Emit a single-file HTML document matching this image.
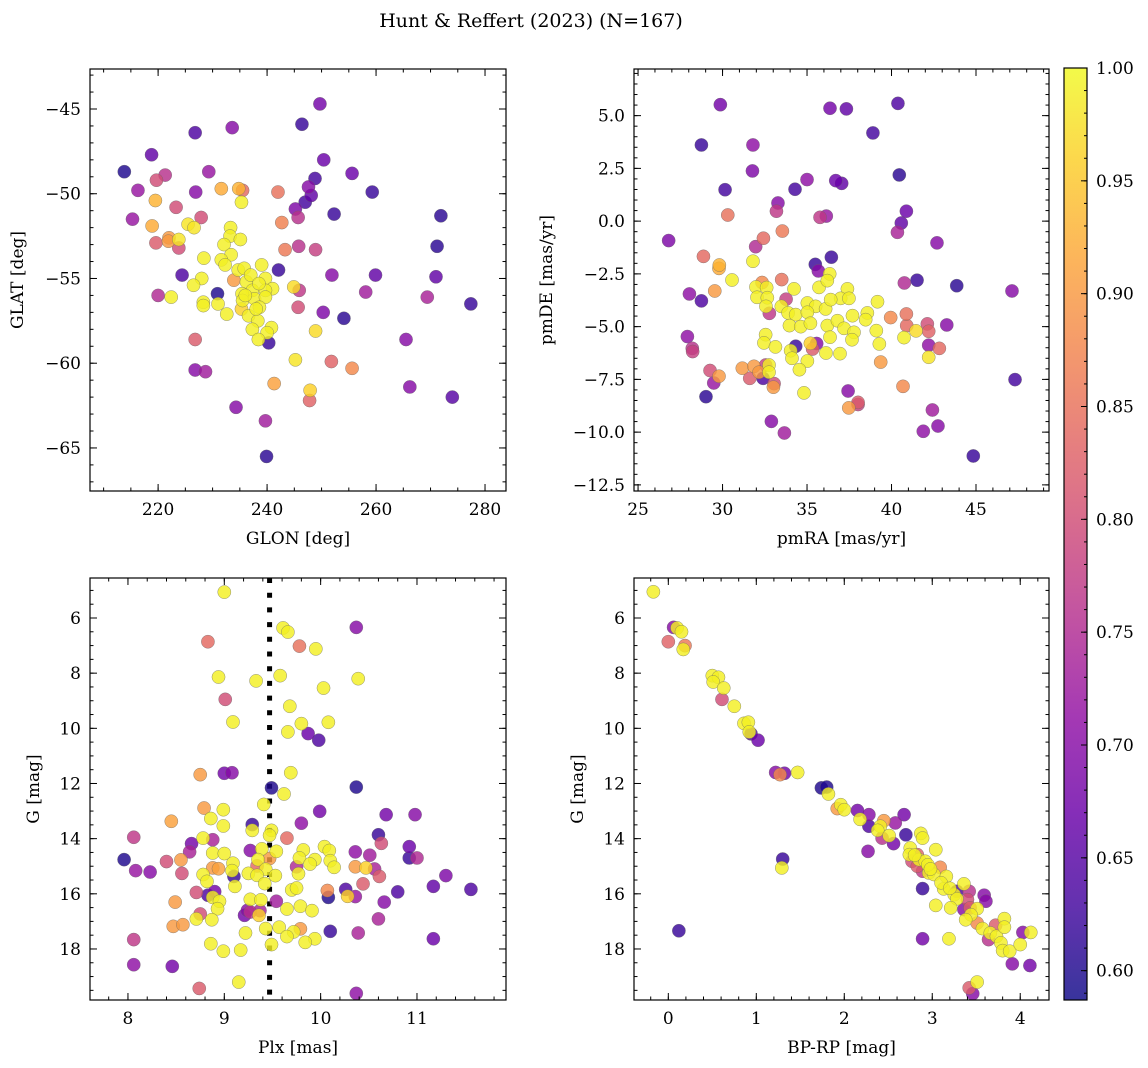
<!DOCTYPE html>
<html><head><meta charset="utf-8"><style>
html,body{margin:0;padding:0;background:#fff;}
svg{display:block;font-family:"DejaVu Serif","Liberation Serif",serif;}
</style></head><body>
<svg id="fig" width="1148" height="1068" viewBox="0 0 1148 1068" xmlns="http://www.w3.org/2000/svg">
<text x="531" y="27" font-size="19" text-anchor="middle">Hunt &amp; Reffert (2023) (N=167)</text>
</svg>
<script>
// ---- data: [x, y, membership probability] ----
const glonGlat = [
[249.7,-44.7,.68],[233.6,-46.1,.70],[226.8,-46.4,.64],[246.4,-45.9,.62],[218.8,-47.7,.66],[250.4,-48.0,.67],[213.8,-48.7,.60],[221.3,-48.9,.76],[219.7,-49.2,.80],[229.3,-48.7,.72],
[255.6,-48.8,.67],[248.8,-49.1,.63],[247.6,-49.6,.70],[248.1,-50.1,.66],[247.0,-50.5,.63],[259.3,-49.9,.62],[216.3,-49.8,.72],[226.9,-49.9,.70],[231.6,-49.7,.92],[234.8,-49.7,.93],
[235.5,-49.8,.84],[242.0,-49.9,.85],[219.5,-50.4,.93],[235.3,-50.5,.99],[223.3,-50.8,.80],[245.2,-50.9,.69],[245.7,-51.4,.76],[252.3,-51.2,.62],[271.9,-51.3,.61],[215.3,-51.5,.72],
[227.9,-51.4,.80],[218.9,-51.9,.92],[225.5,-51.8,.98],[226.6,-52.0,.98],[242.7,-51.7,.87],[222.0,-52.6,.90],[219.6,-52.9,.82],[221.9,-52.8,.90],[223.8,-52.7,.98],[223.8,-53.2,.80],
[233.3,-52.0,.99],[233.2,-52.5,.99],[235.1,-52.7,.99],[232.1,-53.0,.99],[243.3,-53.3,.86],[245.8,-53.1,.76],[248.9,-53.3,.78],[271.2,-53.1,.61],[233.4,-53.6,.99],[228.4,-53.8,.99],
[231.6,-53.9,.99],[232.3,-54.2,.99],[239.0,-54.2,.99],[242.1,-54.5,.62],[234.7,-54.5,.99],[235.8,-54.4,.99],[224.4,-54.8,.64],[251.9,-54.8,.70],[259.9,-54.8,.66],[271.0,-54.9,.66],
[228.0,-55.0,.99],[226.5,-55.4,.99],[233.9,-55.1,.90],[239.7,-55.0,.99],[236.2,-55.2,.99],[237.3,-55.7,.99],[241.0,-55.6,.99],[244.9,-55.5,.97],[245.9,-55.7,.77],[230.9,-55.9,.60],
[220.0,-56.0,.75],[222.4,-56.1,.99],[258.1,-55.8,.73],[269.4,-56.1,.74],[277.4,-56.5,.62],[235.4,-55.9,.99],[239.7,-55.7,.99],[235.5,-56.3,.99],[237.7,-56.2,.99],[239.7,-56.1,.99],
[228.3,-56.4,.99],[228.3,-56.6,.99],[231.0,-56.5,.99],[232.6,-57.1,.99],[235.3,-56.8,.96],[238.6,-56.7,.99],[236.6,-57.2,.99],[238.3,-57.5,.99],[237.3,-58.0,.99],[240.8,-57.9,.99],
[240.0,-58.2,.99],[238.4,-58.6,.99],[245.7,-56.7,.80],[250.3,-57.0,.69],[254.1,-57.35,.61],[248.9,-58.1,.97],[240.3,-58.8,.62],[226.8,-58.6,.82],[265.5,-58.6,.70],[245.2,-59.8,.98],
[251.8,-59.9,.83],[255.6,-60.3,.88],[226.8,-60.4,.70],[228.7,-60.5,.73],[241.3,-61.2,.91],[247.9,-61.6,.96],[247.8,-62.2,.83],[266.2,-61.4,.70],[274.0,-62.0,.65],[234.3,-62.6,.70],
[239.7,-63.4,.73],[239.9,-65.5,.61],[237.0,-54.8,.99],[238.5,-55.3,.99],[236.0,-56.0,.99],[238.0,-56.8,.99]
];
const pmraPmde = [
[29.87,5.52,.68],[36.36,5.35,.68],[37.33,5.32,.66],[40.38,5.58,.64],[38.9,4.18,.63],[28.75,3.61,.62],[31.8,3.61,.71],[31.77,2.38,.69],[30.15,1.49,.63],[35.0,1.97,.71],
[36.7,1.92,.67],[37.05,1.79,.66],[34.29,1.51,.63],[40.46,2.19,.61],[33.28,.86,.70],[33.19,.47,.77],[30.31,.29,.85],[35.77,.18,.77],[36.14,.24,.72],[40.88,.47,.67],
[40.58,-.09,.66],[40.35,-.53,.74],[26.81,-.92,.69],[42.69,-1.03,.70],[32.42,-.81,.84],[33.54,-.47,.86],[31.96,-1.21,.75],[28.87,-1.67,.84],[36.44,-1.71,.62],[35.49,-2.05,.62],
[35.67,-2.36,.70],[29.81,-2.08,.93],[29.79,-2.24,.92],[31.8,-1.9,.99],[36.34,-2.5,.99],[30.56,-2.79,.99],[41.51,-2.8,.62],[40.76,-2.93,.75],[43.86,-3.06,.61],[47.13,-3.31,.70],
[28.04,-3.45,.71],[28.75,-3.78,.64],[29.54,-3.31,.90],[32.34,-2.91,.88],[33.5,-2.77,.85],[31.98,-3.12,.99],[32.61,-3.15,.99],[32.04,-3.61,.99],[32.65,-3.63,.99],[34.23,-3.21,.99],
[35.71,-3.14,.99],[36.2,-2.82,.99],[37.39,-3.21,.99],[36.99,-3.66,.99],[37.48,-3.66,.99],[39.17,-3.82,.99],[33.76,-3.7,.78],[33.48,-4.04,.99],[32.57,-4.04,.99],[32.77,-4.37,.77],
[33.88,-4.35,.99],[34.33,-4.43,.99],[35.02,-3.88,.99],[35.51,-4.04,.99],[35.02,-4.32,.99],[36.1,-4.16,.99],[36.4,-3.72,.99],[37.69,-4.48,.99],[38.57,-4.35,.99],[38.47,-4.67,.99],
[39.95,-4.57,.88],[40.88,-4.4,.85],[40.9,-4.95,.84],[42.12,-4.87,.80],[42.2,-5.22,.83],[43.27,-4.92,.70],[41.45,-5.2,.97],[33.96,-4.95,.99],[34.63,-5.0,.99],[35.2,-4.84,.99],
[36.2,-4.95,.99],[36.8,-4.72,.99],[37.19,-5.08,.99],[37.78,-5.27,.99],[36.36,-5.5,.99],[39.1,-5.19,.99],[32.55,-5.38,.99],[32.45,-5.77,.99],[33.13,-5.96,.99],[34.33,-5.93,.62],
[35.2,-5.79,.96],[35.57,-5.8,.70],[35.33,-6.06,.82],[34.03,-6.14,.99],[34.11,-6.5,.99],[35.02,-6.63,.99],[36.12,-6.25,.99],[36.95,-6.28,.99],[37.66,-5.62,.99],[39.28,-5.82,.99],
[40.74,-5.52,.99],[42.2,-5.88,.71],[42.83,-6.03,.84],[42.2,-6.45,.98],[39.36,-6.68,.90],[27.92,-5.47,.71],[28.21,-6.03,.76],[28.23,-6.18,.78],[31.17,-6.97,.90],[31.86,-6.88,.90],
[32.55,-6.82,.78],[32.75,-6.82,.99],[32.75,-7.16,.99],[32.16,-7.16,.90],[31.61,-7.45,.82],[32.4,-7.45,.64],[29.26,-7.08,.80],[29.79,-7.35,.90],[29.48,-7.67,.72],[29.02,-8.32,.61],
[33.05,-7.7,.80],[33.01,-7.87,.90],[34.55,-7.04,.99],[34.82,-8.14,.99],[40.68,-7.83,.88],[37.43,-8.05,.70],[38.02,-8.59,.82],[37.47,-8.85,.90],[38.02,-8.69,.78],[47.31,-7.51,.63],
[32.89,-9.49,.70],[33.66,-10.04,.73],[42.42,-8.95,.73],[42.75,-9.71,.70],[41.88,-9.96,.71],[44.84,-11.13,.62]
];
const plxG = [
[9.0,5.06,.99],[9.61,6.36,.99],[9.66,6.51,.99],[10.37,6.34,.70],[8.83,6.86,.84],[9.78,7.02,.85],[9.95,7.12,.99],[8.94,8.14,.99],[9.33,8.28,.99],[9.58,8.09,.99],
[10.03,8.54,.99],[10.39,8.2,.99],[9.01,8.95,.80],[9.68,9.2,.99],[9.09,9.77,.99],[9.8,9.83,.99],[10.08,9.78,.99],[9.66,10.13,.99],[9.87,10.19,.67],[9.98,10.43,.64],
[8.75,11.68,.90],[9.0,11.63,.68],[9.08,11.61,.70],[9.69,11.61,.99],[9.49,12.16,.60],[10.37,12.13,.60],[9.62,12.38,.99],[9.41,12.76,.99],[8.79,12.89,.90],[8.99,12.95,.99],
[9.99,13.01,.68],[10.68,13.13,.68],[10.98,13.13,.70],[8.45,13.37,.91],[8.86,13.27,.99],[8.99,13.54,.99],[9.8,13.44,.71],[9.29,13.49,.62],[9.29,13.7,.99],[9.49,13.7,.99],
[9.47,13.88,.99],[8.06,13.95,.77],[8.78,13.98,.99],[8.88,14.04,.74],[9.65,13.98,.84],[10.6,13.86,.62],[8.66,14.18,.68],[10.63,14.17,.80],[10.92,14.29,.67],[8.64,14.48,.74],
[8.88,14.52,.99],[9.0,14.54,.99],[9.27,14.43,.70],[9.39,14.37,.99],[9.54,14.46,.99],[9.82,14.41,.99],[10.04,14.29,.99],[10.09,14.43,.99],[10.36,14.48,.71],[10.51,14.6,.73],
[7.96,14.76,.60],[10.92,14.7,.62],[11.0,14.7,.75],[8.4,14.83,.80],[8.55,14.77,.90],[9.09,14.89,.99],[9.35,14.76,.99],[9.47,14.72,.90],[9.78,14.7,.99],[9.94,14.76,.99],
[10.1,14.8,.99],[8.08,15.16,.72],[8.23,15.21,.70],[8.88,15.06,.90],[8.94,15.09,.91],[9.34,14.99,.84],[9.43,15.11,.99],[9.75,15.02,.75],[9.89,14.92,.99],[10.14,15.04,.99],
[10.36,15.02,.90],[10.47,15.06,.96],[10.56,15.1,.74],[8.56,15.26,.80],[8.78,15.3,.99],[9.08,15.16,.99],[9.25,15.26,.99],[9.34,15.33,.99],[9.53,15.34,.99],[9.77,15.27,.99],
[9.1,15.37,.62],[11.3,15.34,.69],[10.61,15.37,.82],[8.82,15.55,.99],[9.42,15.63,.99],[10.44,15.64,.82],[9.11,15.73,.99],[11.17,15.73,.66],[11.56,15.84,.64],[8.71,15.95,.80],
[8.9,15.92,.68],[8.83,16.05,.64],[9.7,15.86,.99],[9.75,15.79,.99],[10.07,15.88,.88],[10.26,15.84,.64],[10.8,15.93,.64],[8.88,16.13,.99],[8.95,16.27,.99],[9.27,16.2,.99],
[9.38,16.22,.99],[9.54,16.27,.73],[10.08,16.13,.60],[10.28,16.09,.96],[10.36,16.1,.72],[8.49,16.3,.90],[10.66,16.3,.70],[8.93,16.54,.99],[9.65,16.55,.99],[9.79,16.45,.99],
[9.91,16.61,.99],[9.24,16.6,.70],[9.27,16.66,.76],[9.37,16.61,.74],[8.75,16.73,.80],[9.21,16.78,.68],[9.36,16.78,.96],[8.71,16.91,.99],[8.87,16.94,.99],[10.6,16.91,.74],
[8.47,17.18,.90],[8.57,17.12,.90],[9.43,17.26,.99],[9.57,17.21,.99],[9.79,17.27,.90],[9.72,17.38,.99],[10.1,17.36,.62],[10.39,17.42,.74],[9.22,17.42,.99],[9.65,17.55,.99],
[9.94,17.63,.99],[8.06,17.66,.77],[11.17,17.63,.67],[8.86,17.81,.99],[9.49,17.84,.99],[9.84,17.76,.99],[8.99,18.08,.99],[9.17,18.04,.99],[8.06,18.57,.71],[8.46,18.63,.68],
[9.15,19.2,.99],[8.74,19.43,.82],[10.37,19.61,.71]
];
const bprpG = [
[-.17,5.05,.99],[.06,6.34,.70],[.1,6.36,.99],[.15,6.5,.99],[0,6.86,.83],[.19,7.0,.86],[.17,7.14,.99],[.5,8.09,.99],[.57,8.15,.99],[.51,8.32,.99],
[.63,8.54,.99],[.61,8.95,.80],[.75,9.2,.99],[.86,9.82,.99],[.91,9.78,.99],[.92,10.13,.99],[.94,10.2,.64],[1.02,10.43,.67],[1.22,11.6,.70],[1.27,11.68,.88],
[1.32,11.63,.68],[1.47,11.6,.99],[1.74,12.16,.60],[1.8,12.13,.60],[1.82,12.38,.99],[1.92,12.91,.90],[1.96,12.77,.99],[2.0,12.95,.99],[2.15,12.98,.68],[2.28,13.13,.70],
[2.68,13.13,.68],[2.18,13.3,.99],[2.28,13.55,.64],[2.45,13.35,.90],[2.58,13.43,.72],[2.41,13.55,.99],[2.38,13.7,.99],[2.51,13.89,.99],[2.43,13.98,.76],[2.56,14.18,.68],
[2.7,13.86,.62],[2.87,13.81,.99],[2.89,13.98,.99],[2.27,14.46,.70],[2.75,14.34,.99],[3.04,14.4,.99],[2.74,14.58,.99],[2.83,14.58,.83],[2.85,14.76,.99],[2.92,14.82,.99],
[2.83,15.0,.82],[2.89,15.18,.77],[2.96,15.24,.99],[3.02,15.3,.99],[3.09,15.04,.88],[3.16,15.37,.99],[3.13,15.82,.99],[3.25,16.03,.99],[3.36,15.64,.99],[3.28,15.91,.64],
[3.42,15.91,.76],[3.28,16.18,.99],[3.4,16.21,.80],[2.89,15.81,.62],[3.59,16.05,.70],[3.61,16.27,.70],[3.04,16.42,.99],[3.21,16.51,.99],[3.36,16.57,.70],[3.43,16.51,.82],
[3.51,16.54,.99],[3.44,16.76,.99],[3.38,16.94,.99],[3.51,17.06,.88],[3.57,17.26,.99],[3.72,17.14,.82],[3.66,17.42,.99],[3.64,17.66,.76],[3.73,17.54,.99],[3.82,16.9,.99],
[3.82,17.21,.99],[3.78,17.78,.99],[3.8,18.06,.99],[3.88,18.08,.99],[4.0,17.84,.99],[4.03,17.4,.70],[4.12,17.4,.99],[3.91,18.54,.70],[4.11,18.6,.68],[2.89,17.63,.68],
[3.19,17.63,.99],[3.51,19.2,.99],[3.42,19.41,.82],[3.46,19.62,.70],[1.3,14.74,.62],[1.29,15.06,.99],[.12,17.34,.62],[2.77,14.82,.80],[2.8,14.6,.99],[2.95,14.95,.99],
[3.1,15.6,.99],[3.2,15.8,.99],[2.98,15.1,.99]
];
const pMin = 0.587, pMax = 1.0;
const cbTicks = [0.60,0.65,0.70,0.75,0.80,0.85,0.90,0.95,1.00];

const NS = "http://www.w3.org/2000/svg";
const svg = document.getElementById('fig');
function mk(tag, attrs, parent){const e=document.createElementNS(NS,tag);for(const k in attrs)e.setAttribute(k,attrs[k]);(parent||svg).appendChild(e);return e;}

const plasma=[[13,8,135],[65,4,157],[106,0,168],[143,13,164],[177,42,144],[204,71,120],[225,100,98],[242,132,75],[252,166,54],[252,206,37],[240,249,33]];
function cmap(p){let t=(p-pMin)/(pMax-pMin);t=Math.max(0,Math.min(1,t));const f=t*10;const i=Math.min(9,Math.floor(f));const r=f-i;const a=plasma[i],b=plasma[i+1];
return `rgb(${Math.round(a[0]+(b[0]-a[0])*r)},${Math.round(a[1]+(b[1]-a[1])*r)},${Math.round(a[2]+(b[2]-a[2])*r)})`;}

function fmt(v,d){const s=v.toFixed(d);return v<0?'\u2212'+s.slice(1):s;}

function panel(cfg){
  const {x0,x1,y0,y1,xd,yd,invY,data,name}=cfg;
  const sx=v=>x0+(v-xd[0])/(xd[1]-xd[0])*(x1-x0);
  const sy=invY? v=>y0+(v-yd[0])/(yd[1]-yd[0])*(y1-y0) : v=>y1-(v-yd[0])/(yd[1]-yd[0])*(y1-y0);
  const g=mk('g',{});
  
  
  const cid='clip-'+name;
  const cp=mk('clipPath',{id:cid},g);mk('rect',{x:x0,y:y0,width:x1-x0,height:y1-y0},cp);
  const pts=mk('g',{'clip-path':`url(#${cid})`},g);
  
  
  if(cfg.vline!==undefined){const l=mk('line',{x1:sx(cfg.vline),x2:sx(cfg.vline),y1:y0,y2:y1,stroke:'#000','stroke-width':5,'stroke-dasharray':'5 9.7'},pts);
    
    }
  const sorted=data.slice().sort((a,b)=>a[2]-b[2]);
  sorted.forEach(d=>{const c=mk('circle',{cx:sx(d[0]),cy:sy(d[1]),r:6.6,fill:cmap(d[2]),'fill-opacity':0.82,stroke:'#666','stroke-opacity':0.7,'stroke-width':0.5},pts);
    
    });
  const tk=mk('g',{stroke:'#000','stroke-width':1},g);
  function ticks(dom,step){const out=[];const s=Math.ceil(dom[0]/step-1e-9);for(let k=s;k*step<=dom[1]+1e-9;k++)out.push(k*step);return out;}
  const [xmin,xmax]=[Math.min(...xd),Math.max(...xd)];
  const [ymin,ymax]=[Math.min(...yd),Math.max(...yd)];
  ticks([xmin,xmax],cfg.xminor).forEach(v=>{const X=sx(v);mk('line',{x1:X,x2:X,y1:y1,y2:y1-3.5},tk);mk('line',{x1:X,x2:X,y1:y0,y2:y0+3.5},tk);});
  ticks([ymin,ymax],cfg.yminor).forEach(v=>{const Y=sy(v);mk('line',{x1:x0,x2:x0+3.5,y1:Y,y2:Y},tk);mk('line',{x1:x1,x2:x1-3.5,y1:Y,y2:Y},tk);});
  ticks([xmin,xmax],cfg.xmajor).forEach(v=>{const X=sx(v);mk('line',{x1:X,x2:X,y1:y1,y2:y1-7},tk);mk('line',{x1:X,x2:X,y1:y0,y2:y0+7},tk);
    const t=mk('text',{x:X,y:y1+24,'font-size':17,'text-anchor':'middle'},g);t.textContent=fmt(v,cfg.xdec);
    
    });
  ticks([ymin,ymax],cfg.ymajor).forEach(v=>{const Y=sy(v);mk('line',{x1:x0,x2:x0+7,y1:Y,y2:Y},tk);mk('line',{x1:x1,x2:x1-7,y1:Y,y2:Y},tk);
    const t=mk('text',{x:x0-9,y:Y+6,'font-size':17,'text-anchor':'end'},g);t.textContent=fmt(v,cfg.ydec);
    
    });
  mk('rect',{x:x0,y:y0,width:x1-x0,height:y1-y0,fill:'none',stroke:'#000','stroke-width':1.2},g);
  const xl=mk('text',{x:(x0+x1)/2,y:y1+53,'font-size':17,'text-anchor':'middle'},g);xl.textContent=cfg.xlabel;
  
  
  const ylx=cfg.ylx, yly=(y0+y1)/2;
  const yl=mk('text',{x:ylx,y:yly,'font-size':17,'text-anchor':'middle',transform:`rotate(-90 ${ylx} ${yly})`},g);yl.textContent=cfg.ylabel;
  
  
}

panel({name:'glon-glat',x0:90,x1:506,y0:69,y1:491,xd:[207.5,283.85],yd:[-67.54,-42.64],data:glonGlat,xmajor:20,xminor:5,ymajor:5,yminor:1,xdec:0,ydec:0,xlabel:'GLON [deg]',ylabel:'GLAT [deg]',ylx:23});
panel({name:'pmra-pmde',x0:634,x1:1049,y0:69,y1:491,xd:[24.76,49.32],yd:[-12.79,7.21],data:pmraPmde,xmajor:5,xminor:1,ymajor:2.5,yminor:0.5,xdec:0,ydec:1,xlabel:'pmRA [mas/yr]',ylabel:'pmDE [mas/yr]',ylx:552});
panel({name:'plx-g',x0:90,x1:506,y0:578,y1:1000,xd:[7.606,11.924],yd:[4.55,19.85],invY:true,data:plxG,xmajor:1,xminor:0.2,ymajor:2,yminor:0.5,xdec:0,ydec:0,xlabel:'Plx [mas]',ylabel:'G [mag]',ylx:39,vline:9.47});
panel({name:'bprp-g',x0:634,x1:1049,y0:578,y1:1000,xd:[-0.39,4.327],yd:[4.55,19.85],invY:true,data:bprpG,xmajor:1,xminor:0.2,ymajor:2,yminor:0.5,xdec:0,ydec:0,xlabel:'BP-RP [mag]',ylabel:'G [mag]',ylx:583});

// colorbar
(function(){
  const cx0=1064,cx1=1087,cy0=68,cy1=1000;
  const sy=v=>cy1-(v-pMin)/(pMax-pMin)*(cy1-cy0);
  const g=mk('g',{});
  
  
  const defs=mk('defs',{},g);
  const lg=mk('linearGradient',{id:'cbgrad',x1:0,y1:1,x2:0,y2:0},defs);
  for(let i=0;i<=20;i++){const t=i/20;mk('stop',{offset:t,'stop-color':cmap(pMin+t*(pMax-pMin))},lg);}
  mk('rect',{x:cx0,y:cy0,width:cx1-cx0,height:cy1-cy0,fill:'url(#cbgrad)','fill-opacity':0.82},g);
  for(let v=0.59;v<=1.0001;v+=0.01){const Y=sy(v);mk('line',{x1:cx1,x2:cx1-3,y1:Y,y2:Y,stroke:'#000'},g);}
  cbTicks.forEach(v=>{const Y=sy(v);mk('line',{x1:cx1,x2:cx1-6,y1:Y,y2:Y,stroke:'#000'},g);
    const t=mk('text',{x:cx1+9,y:Y+6,'font-size':17,'text-anchor':'start'},g);t.textContent=v.toFixed(2);
    
    });
  mk('rect',{x:cx0,y:cy0,width:cx1-cx0,height:cy1-cy0,fill:'none',stroke:'#000','stroke-width':1.2},g);
})();
</script>
</body></html>
